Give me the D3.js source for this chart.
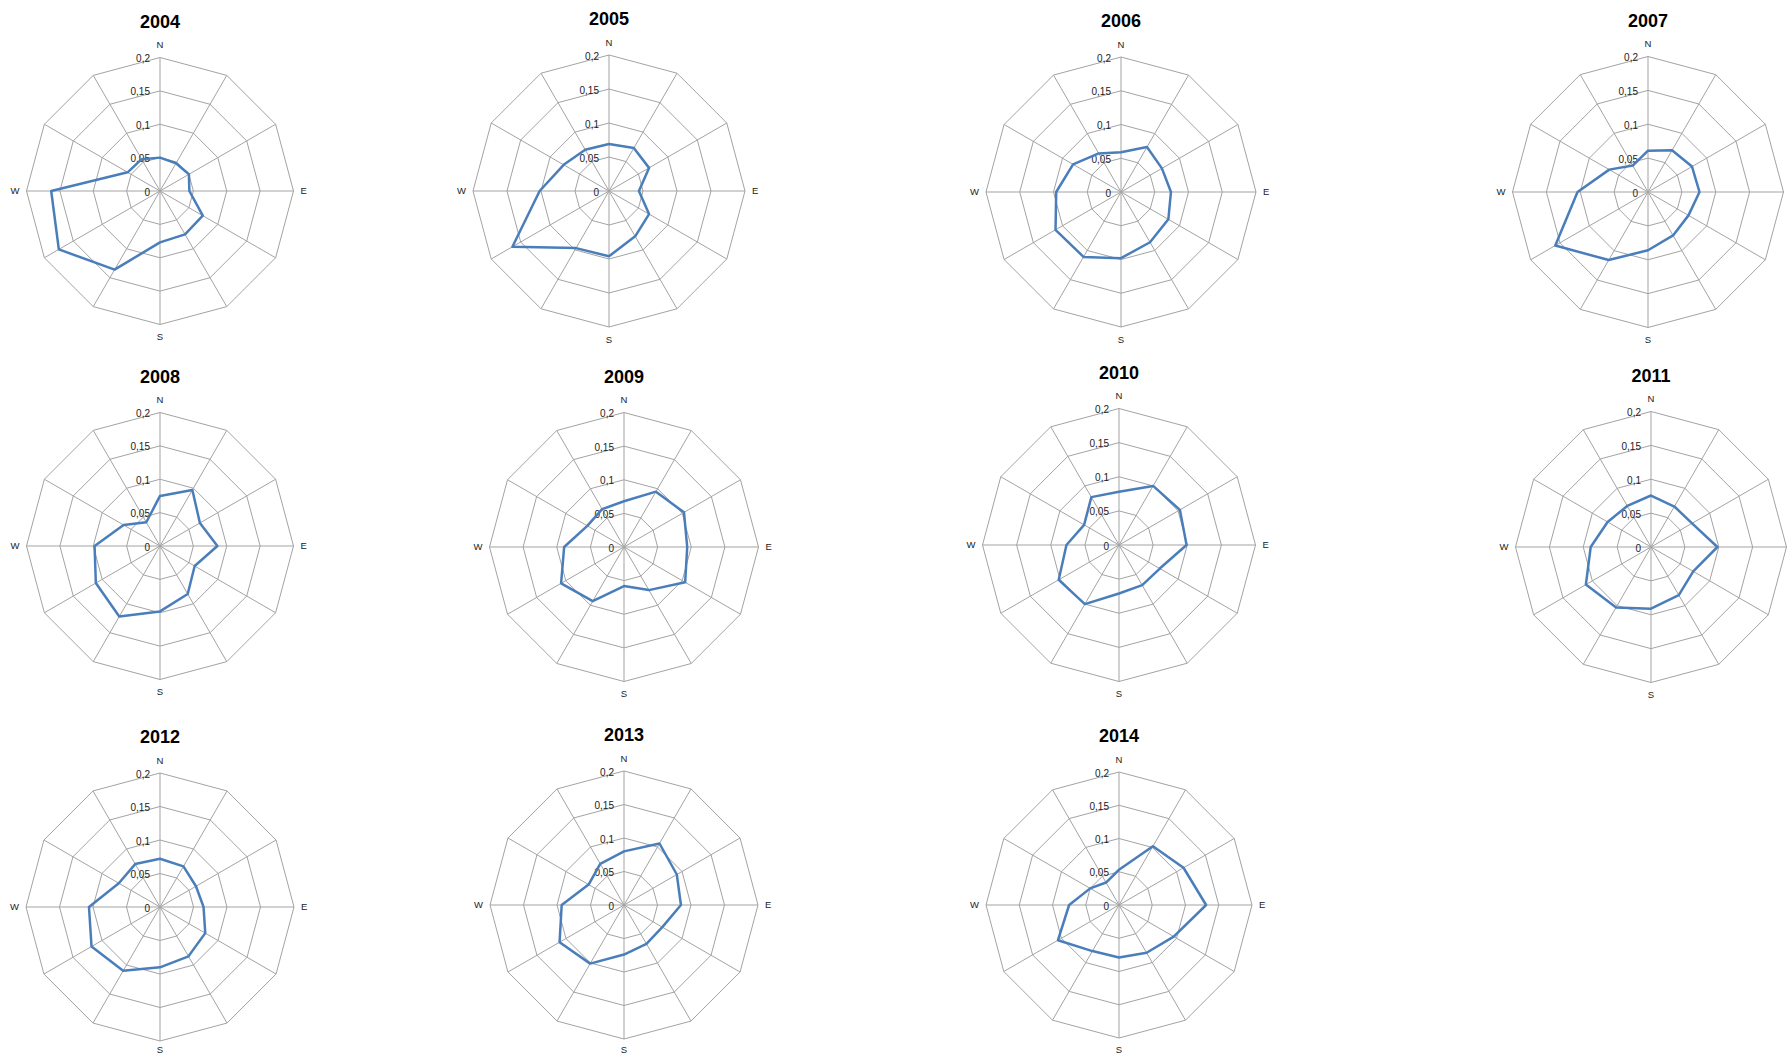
<!DOCTYPE html>
<html>
<head>
<meta charset="utf-8">
<script src="https://cdn.jsdelivr.net/npm/d3@7"></script>
<style>
  body { margin: 0; background: #fff; }
  svg { display: block; font-family: "Liberation Sans", Arial, sans-serif; }
</style>
</head>
<body>
<div class="chart"></div>
<script>
// 12 wind directions, only the cardinal ones are labelled
const directions = ["N", "", "", "E", "", "", "S", "", "", "W", "", ""];
const years = ["2004", "2005", "2006", "2007", "2008", "2009", "2010", "2011", "2012", "2013", "2014"];
const radialTicks = [0, 0.05, 0.1, 0.15, 0.2];

// frequency per direction, clockwise from N
const v2004 = [0.050, 0.048, 0.050, 0.044, 0.074, 0.075, 0.077, 0.136, 0.175, 0.163, 0.056, 0.055];
const v2005 = [0.069, 0.073, 0.068, 0.044, 0.068, 0.077, 0.096, 0.097, 0.164, 0.102, 0.077, 0.070];
const v2006 = [0.059, 0.077, 0.070, 0.074, 0.081, 0.086, 0.098, 0.111, 0.112, 0.096, 0.082, 0.066];
const v2007 = [0.061, 0.071, 0.075, 0.076, 0.069, 0.074, 0.086, 0.116, 0.158, 0.104, 0.066, 0.045];
const v2008 = [0.075, 0.097, 0.069, 0.086, 0.060, 0.083, 0.098, 0.122, 0.111, 0.098, 0.063, 0.041];
const v2009 = [0.068, 0.095, 0.103, 0.094, 0.105, 0.074, 0.058, 0.093, 0.108, 0.089, 0.063, 0.065];
const v2010 = [0.078, 0.100, 0.103, 0.099, 0.069, 0.068, 0.071, 0.100, 0.102, 0.077, 0.059, 0.081];
const v2011 = [0.076, 0.069, 0.070, 0.098, 0.072, 0.082, 0.091, 0.103, 0.111, 0.089, 0.074, 0.070];
const v2012 = [0.072, 0.070, 0.062, 0.065, 0.078, 0.085, 0.090, 0.110, 0.118, 0.106, 0.071, 0.074];
const v2013 = [0.080, 0.106, 0.091, 0.085, 0.066, 0.067, 0.074, 0.101, 0.111, 0.093, 0.061, 0.071];
const v2014 = [0.053, 0.102, 0.112, 0.131, 0.095, 0.083, 0.079, 0.080, 0.106, 0.075, 0.050, 0.039];
const series = [v2004, v2005, v2006, v2007, v2008, v2009, v2010, v2011, v2012, v2013, v2014];

// where each small chart sits (centre and outer radius), they were placed by hand
const panels = [
  { x: 160, y: 191, r: 133.5 },
  { x: 609, y: 191, r: 136 },
  { x: 1121, y: 192, r: 135 },
  { x: 1648, y: 192, r: 135.5 },
  { x: 160, y: 546, r: 133.5 },
  { x: 624, y: 547, r: 134.5 },
  { x: 1119, y: 545, r: 136.5 },
  { x: 1651, y: 547, r: 135.5 },
  { x: 160, y: 907, r: 134 },
  { x: 624, y: 905, r: 134 },
  { x: 1119, y: 905, r: 133 }
];

const W = 1789, H = 1056;
const gridColor = "#a3a3a3";
const lineColor = "#4a7ebb";

const svg = d3.select(".chart").append("svg")
  .attr("width", W)
  .attr("height", H);

const angle = d3.scaleLinear().domain([0, directions.length]).range([0, 2 * Math.PI]);
const fmt = d3.formatLocale({ decimal: ",", thousands: ".", grouping: [3], currency: ["", ""] }).format("~g");

years.forEach(function (year, i) {
  const p = panels[i];
  const rMax = d3.max(radialTicks);
  const rScale = d3.scaleLinear().domain([0, rMax]).range([0, p.r]);
  const g = svg.append("g").attr("transform", `translate(${p.x},${p.y})`);

  const radial = d3.lineRadial()
    .angle((d, k) => angle(k))
    .radius(d => rScale(d))
    .curve(d3.curveLinearClosed);

  // polygon rings
  g.append("g").attr("class", "rings")
    .selectAll("path")
    .data(radialTicks.filter(t => t > 0))
    .enter()
    .append("path")
    .attr("d", t => radial(directions.map(() => t)))
    .attr("fill", "none")
    .attr("stroke", gridColor)
    .attr("stroke-width", 1);

  // spokes
  g.append("g").attr("class", "spokes")
    .selectAll("line")
    .data(directions)
    .enter()
    .append("line")
    .attr("x1", 0).attr("y1", 0)
    .attr("x2", (d, k) => rScale(rMax) * Math.sin(angle(k)))
    .attr("y2", (d, k) => -rScale(rMax) * Math.cos(angle(k)))
    .attr("stroke", gridColor)
    .attr("stroke-width", 1);

  // direction labels (the ones falling off the page are clipped in the original too)
  const dirs = directions.map((d, k) => {
    const a = angle(k);
    const s = Math.sin(a), c = Math.cos(a);
    const rr = rScale(rMax) + 7 + 5.5 * Math.abs(c);
    let y = -rr * c;
    y = Math.min(y, H - p.y - 6);
    return { name: d, x: rr * s, y: y, s: s };
  }).filter(d => d.name !== "" && p.x + d.x + 10 < W);

  g.append("g").attr("class", "dir")
    .selectAll("text")
    .data(dirs)
    .enter()
    .append("text")
    .attr("x", d => d.x)
    .attr("y", d => d.y)
    .attr("text-anchor", d => d.s > 0.1 ? "start" : (d.s < -0.1 ? "end" : "middle"))
    .attr("dy", "0.35em")
    .attr("font-size", 9.5)
    .attr("fill", "#222")
    .text(d => d.name);

  // radial tick labels
  g.append("g").attr("class", "ticks")
    .selectAll("text")
    .data(radialTicks)
    .enter()
    .append("text")
    .attr("x", -10)
    .attr("y", t => -rScale(t) + 1)
    .attr("dy", "0.35em")
    .attr("text-anchor", "end")
    .attr("font-size", 10)
    .attr("fill", "#222")
    .text(t => fmt(t));

  // data
  g.append("path")
    .datum(series[i])
    .attr("d", radial)
    .attr("fill", "none")
    .attr("stroke", lineColor)
    .attr("stroke-width", 2.5)
    .attr("stroke-linejoin", "round");

  // title
  g.append("text")
    .attr("x", 0)
    .attr("y", -rScale(rMax) - 36)
    .attr("dy", "0.35em")
    .attr("text-anchor", "middle")
    .attr("font-size", 18)
    .attr("font-weight", "bold")
    .attr("fill", "#000")
    .text(year);
});
</script>
</body>
</html>
